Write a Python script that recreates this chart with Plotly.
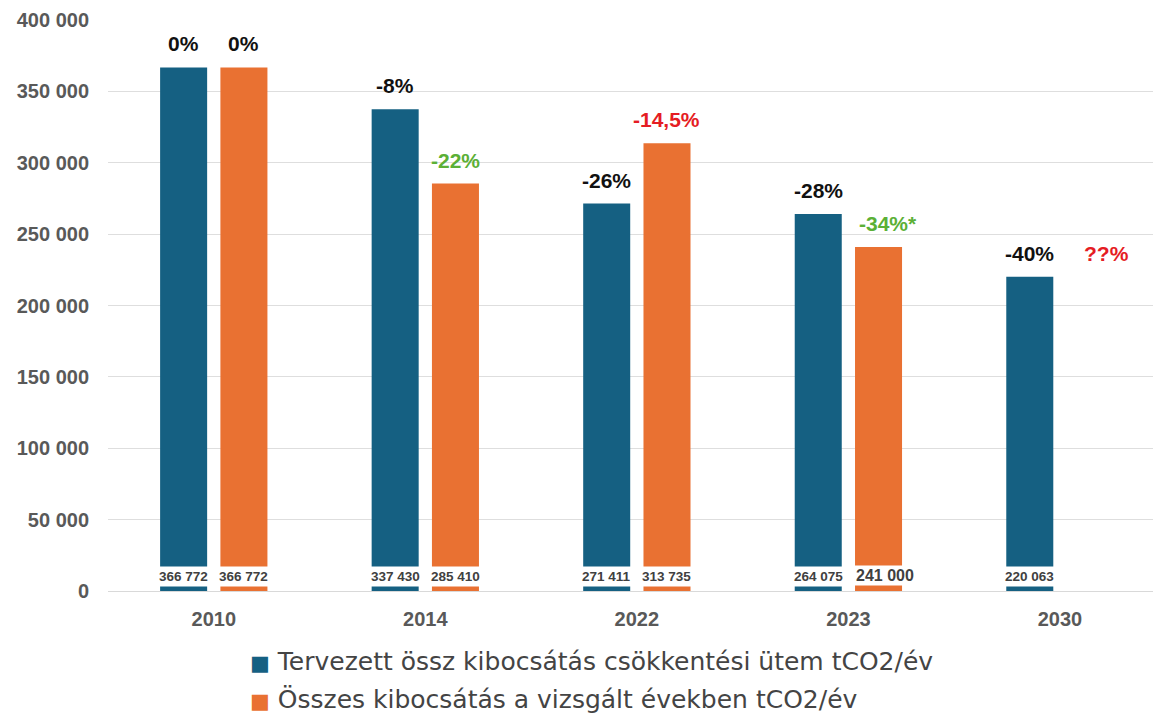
import plotly.graph_objects as go

years = ["2010", "2014", "2022", "2023", "2030"]
planned = [366772, 337430, 271411, 264075, 220063]
actual = [366772, 285410, 313735, 241000, None]
planned_pct = ["0%", "-8%", "-26%", "-28%", "-40%"]
actual_pct = ["0%", "-22%", "-14,5%", "-34%*", "??%"]
actual_pct_colors = ["#111111", "#5BB036", "#E51C23", "#5BB036", "#E51C23"]
name_planned = "Tervezett össz kibocsátás csökkentési ütem tCO2/év"
name_actual = "Összes kibocsátás a vizsgált években tCO2/év"

BLUE = "#156082"
ORANGE = "#E97132"
NUMFONT = "Liberation Sans, Arial, sans-serif"


def fmt(v):
    return f"{v:,}".replace(",", " ")


xpos = list(range(len(years)))

fig = go.Figure()
fig.add_trace(go.Bar(x=xpos, y=planned, name=name_planned, marker_color=BLUE,
                     marker_line_width=0, showlegend=False))
fig.add_trace(go.Bar(x=xpos, y=actual, name=name_actual, marker_color=ORANGE,
                     marker_line_width=0, showlegend=False))

annotations = []
offset = 30
for i in xpos:
    for val, shift in ((planned[i], -offset), (actual[i], offset)):
        if val is None:
            continue
        big = val == 241000
        annotations.append(dict(
            x=i, y=0, xref="x", yref="y", xshift=shift + (7 if big else 0),
            yshift=5 if big else 4,
            yanchor="bottom", showarrow=False, text="<b>" + fmt(val) + "</b>",
            font=dict(family=NUMFONT, size=16 if big else 13.5, color="#404040"),
            bgcolor="white", borderpad=1 if big else 2))
    annotations.append(dict(
        x=i, y=planned[i], xref="x", yref="y", xshift=-offset, yshift=10,
        yanchor="bottom", showarrow=False, text="<b>" + planned_pct[i] + "</b>",
        font=dict(family=NUMFONT, size=21, color="#111111")))
    missing = actual[i] is None
    anchor = planned[i] if missing else actual[i]
    extra = 17 if missing else (10 if actual_pct[i].endswith("*") else 0)
    annotations.append(dict(
        x=i, y=anchor, xref="x", yref="y", xshift=offset + extra, yshift=10,
        yanchor="bottom", showarrow=False, text="<b>" + actual_pct[i] + "</b>",
        font=dict(family=NUMFONT, size=21, color=actual_pct_colors[i])))

# legend rows (colored square + series name)
for name, color, ypos in ((name_planned, BLUE, -0.124), (name_actual, ORANGE, -0.190)):
    annotations.append(dict(
        x=0.134, y=ypos, xref="paper", yref="paper", xanchor="left", yanchor="middle",
        showarrow=False,
        text=f'<span style="color:{color};font-size:21px">■</span> {name}',
        font=dict(family="DejaVu Sans, sans-serif", size=25, color="#444444")))

fig.update_layout(
    width=1153, height=718,
    margin=dict(l=108, r=0, t=20, b=127),
    paper_bgcolor="white", plot_bgcolor="white",
    barmode="group", bargap=0.43, bargroupgap=0.22,
    separators=", ",
    showlegend=False,
    annotations=annotations,
)
fig.update_xaxes(range=[-0.5, 4.44], tickmode="array", tickvals=xpos, ticktext=years,
                 showgrid=False, zeroline=False,
                 showline=True, linecolor="#d9d9d9", linewidth=1, ticks="",
                 tickfont=dict(family=NUMFONT, size=20, color="#595959", weight="bold"),
                 ticklabelstandoff=10)
fig.update_yaxes(range=[0, 400000], dtick=50000, tickformat=",d",
                 showgrid=True, gridcolor="#dedede", gridwidth=1, zeroline=False,
                 showline=False, ticks="",
                 tickfont=dict(family=NUMFONT, size=20, color="#595959", weight="bold"),
                 ticklabelstandoff=18)

fig.write_html("out.html", config={"displayModeBar": False},
               post_script="document.body.style.margin='0';")
